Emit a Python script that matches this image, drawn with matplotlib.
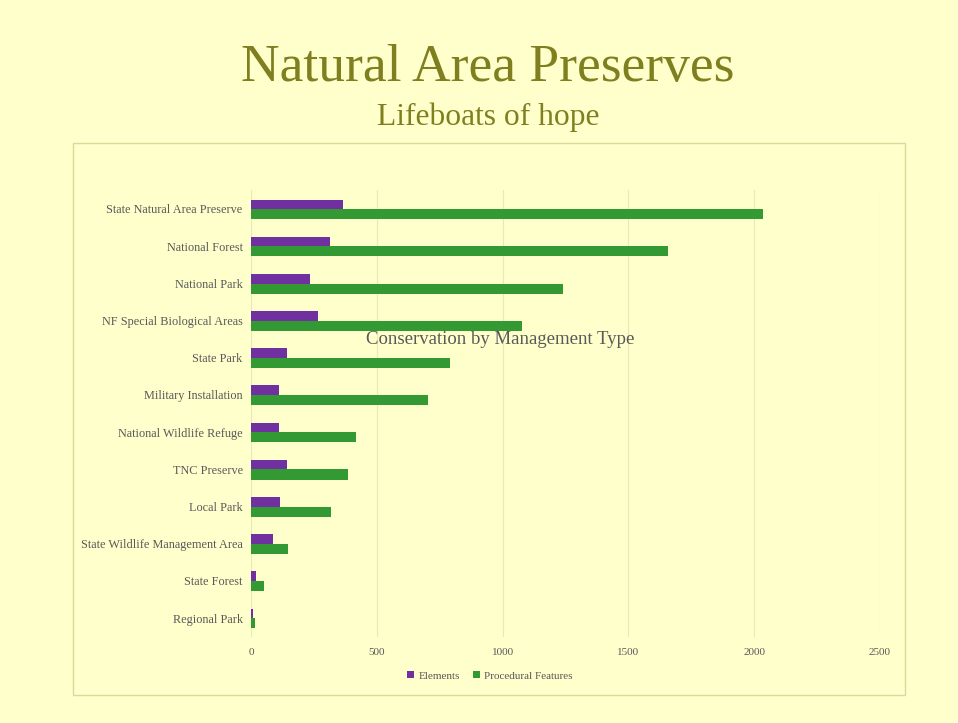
import matplotlib
matplotlib.use("Agg")
import matplotlib.pyplot as plt
from matplotlib.patches import Rectangle
import numpy as np

categories = ["State Natural Area Preserve", "National Forest", "National Park",
              "NF Special Biological Areas", "State Park", "Military Installation",
              "National Wildlife Refuge", "TNC Preserve", "Local Park",
              "State Wildlife Management Area", "State Forest", "Regional Park"]
elements = [366, 314, 235, 267, 143, 111, 111, 143, 115, 88, 20, 8]
procedural = [2034, 1656, 1242, 1079, 792, 705, 418, 386, 318, 147, 52, 16]
xticks = [0, 500, 1000, 1500, 2000, 2500]

bg = "#FFFFCC"
olive = "#7F7F1F"
gray = "#595959"
purple = "#7030A0"
green = "#339933"

plt.rcParams['font.family'] = ['Liberation Serif', 'DejaVu Serif']

fig = plt.figure(figsize=(9.58, 7.23), dpi=100)
fig.patch.set_facecolor(bg)

# outer chart frame
fig.patches.append(Rectangle((73/958, 1-695/723), (905-73)/958, (695-143)/723,
                             transform=fig.transFigure, fill=False,
                             edgecolor="#D9D99A", linewidth=1.0))

fig.text(488/958, 1-68/723, "Natural Area Preserves", ha="center", va="center",
         fontsize=38.5, color=olive)
fig.text(488/958, 1-117/723, "Lifeboats of hope", ha="center", va="center",
         fontsize=22.7, color=olive)

ax = fig.add_axes([251/958, 1-636.6/723, 629/958, (636.6-190.4)/723])
ax.set_facecolor(bg)
y = np.arange(len(categories))
h = 0.27
ax.barh(y - 0.12, elements, height=h, color=purple, label="Elements", zorder=3)
ax.barh(y + 0.14, procedural, height=h, color=green, label="Procedural Features", zorder=3)
ax.set_ylim(len(categories) - 0.5, -0.5)
ax.set_xlim(0, 2500)
ax.set_xticks(xticks)
ax.set_yticks(y)
ax.set_yticklabels(categories)
ax.tick_params(axis='y', length=0, labelsize=8.8, labelcolor=gray, pad=6)
ax.tick_params(axis='x', length=0, labelsize=8, labelcolor=gray, pad=8)
ax.grid(axis='x', color="#E8E8B8", linewidth=0.8, zorder=0)
for s in ax.spines.values():
    s.set_visible(False)

fig.text(500/958, 1-340/723, "Conservation by Management Type", ha="center",
         va="center", fontsize=13.5, color=gray)

leg = fig.legend(loc="center", bbox_to_anchor=(490/958, 1-676/723), ncol=2,
                 frameon=False, fontsize=8, handlelength=0.6, handleheight=0.6,
                 columnspacing=1.2, handletextpad=0.4)
for t in leg.get_texts():
    t.set_color(gray)

fig.savefig("out.png", dpi=100, facecolor=bg)
